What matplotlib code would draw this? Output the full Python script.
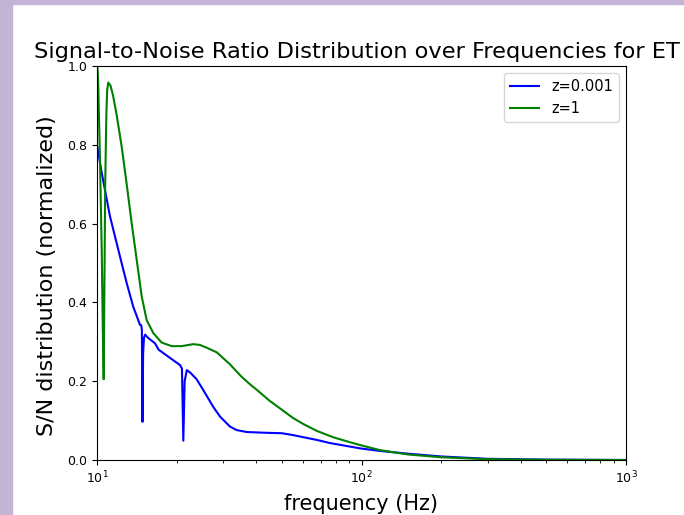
import matplotlib
matplotlib.use("Agg")
import matplotlib.pyplot as plt
from matplotlib.patches import Rectangle


# S/N distribution, z = 0.001 (blue)
FREQ_LOW_Z = [10.0, 10.35, 10.72, 11.2, 11.7, 12.22, 12.95, 13.71, 14.54, 14.7, 14.78,
              14.86, 14.94, 15.05, 15.2, 15.6, 16.57, 17.1, 18.8, 20.6, 20.95, 21.2,
              21.45, 21.85, 22.5, 23.8, 25.2, 27.5, 29.2, 31.8, 33.7, 36.8, 43.8, 50.0,
              55.3, 67.7, 76.0, 90.5, 100.0, 117.5, 150.0, 200.0, 300.0, 500.0, 1000.0]
SN_LOW_Z = [0.80, 0.74, 0.685, 0.618, 0.567, 0.516, 0.449, 0.389, 0.343, 0.342, 0.33,
            0.097, 0.27, 0.31, 0.318, 0.31, 0.296, 0.28, 0.26, 0.241, 0.232, 0.049,
            0.20, 0.228, 0.222, 0.205, 0.178, 0.135, 0.11, 0.085, 0.076, 0.071, 0.069,
            0.068, 0.063, 0.051, 0.043, 0.034, 0.029, 0.023, 0.016, 0.009, 0.003,
            0.001, 0.0]

# S/N distribution, z = 1 (green)
FREQ_HIGH_Z = [10.0, 10.1, 10.25, 10.42, 10.52, 10.6, 10.66, 10.74, 10.85, 10.93, 11.03,
               11.25, 11.5, 11.87, 12.4, 12.95, 13.53, 14.13, 14.76, 15.41, 16.33, 17.56,
               19.17, 20.9, 23.1, 24.5, 26.0, 28.4, 31.8, 35.0, 37.9, 40.2, 45.0, 50.6,
               55.0, 60.0, 67.7, 78.0, 90.5, 100.0, 117.5, 150.0, 200.0, 300.0, 500.0,
               1000.0]
SN_HIGH_Z = [1.02, 0.96, 0.78, 0.533, 0.33, 0.205, 0.42, 0.70, 0.88, 0.94, 0.958,
             0.95, 0.925, 0.875, 0.795, 0.70, 0.60, 0.508, 0.415, 0.355, 0.322, 0.298,
             0.289, 0.289, 0.294, 0.292, 0.285, 0.273, 0.243, 0.213, 0.192, 0.178,
             0.15, 0.125, 0.107, 0.092, 0.074, 0.058, 0.045, 0.037, 0.025, 0.014,
             0.007, 0.002, 0.0005, 0.0]

LABELS = ["z=0.001", "z=1"]
BORDER_COLOR = "#c3b4d6"


def main():
    fig = plt.figure(figsize=(6.84, 5.15), dpi=100)
    # lavender window frame on the left and top edge of the screenshot
    fig.patches.append(Rectangle((0, 0), 12 / 684, 1, transform=fig.transFigure,
                                 color=BORDER_COLOR, zorder=-1))
    fig.patches.append(Rectangle((0, 1 - 4 / 515), 1, 4 / 515, transform=fig.transFigure,
                                 color=BORDER_COLOR, zorder=-1))

    ax = fig.add_axes([97 / 684, 55 / 515, 529 / 684, 394 / 515])
    ax.plot(FREQ_LOW_Z, SN_LOW_Z, color="blue", lw=1.5, label=LABELS[0])
    ax.plot(FREQ_HIGH_Z, SN_HIGH_Z, color="green", lw=1.5, label=LABELS[1])
    ax.set_xscale("log")
    ax.set_xlim(10, 1000)
    ax.set_ylim(0, 1.0)
    ax.tick_params(labelsize=9)
    ax.set_xlabel("frequency (Hz)", fontsize=15, labelpad=5.5)
    ax.set_ylabel("S/N distribution (normalized)", fontsize=16)
    ax.yaxis.set_label_coords(-0.076, 0.467)
    ax.set_title("Signal-to-Noise Ratio Distribution over Frequencies for ET",
                 fontsize=16.2, x=0.4915)
    ax.legend(loc="upper right", fontsize=10.5)

    fig.savefig("out.png", dpi=100)
    plt.close(fig)


if __name__ == "__main__":
    main()
